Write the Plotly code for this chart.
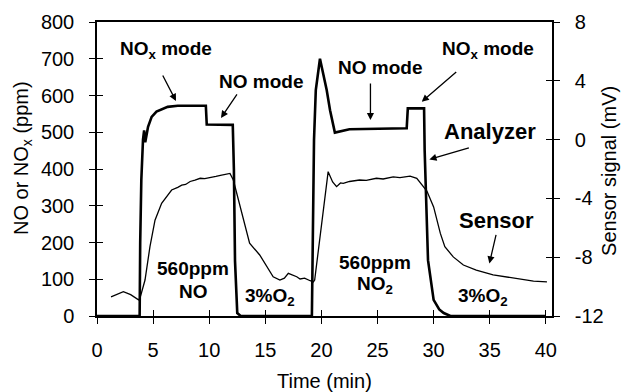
import plotly.graph_objects as go

# Analyzer (ppm, left axis)
analyzer_t = [0, 3.8, 3.85, 3.95, 4.1, 4.2, 4.3, 4.4, 4.55, 4.87, 5.3, 6.3, 7.2, 9.7, 9.78,
              12.1, 12.2, 12.3, 12.5, 12.8, 19.15, 19.34, 19.5, 19.87, 20.17, 20.47, 20.77,
              21.2, 22.5, 27.6, 27.7, 29.15, 29.2, 29.5, 30.0, 30.5, 30.9, 31.5, 40.0]
analyzer_ppm = [0, 0, 200, 370, 480, 505, 473, 495, 515, 542, 556, 569, 572, 572, 521,
                520, 400, 150, 8, 0, 0, 479, 615, 700, 660, 615, 560,
                499, 508, 511, 565, 565, 452, 152, 44, 18, 8, 0, 0]

# Sensor (mV, right axis)
sensor_t = [1.25, 1.8, 2.35, 3.0, 3.5, 3.7, 3.83, 4.28, 4.72, 5.17, 5.76, 6.65, 7.2, 7.55,
            7.9, 8.3, 8.73, 9.2, 9.6, 10.2, 10.6, 11.0, 11.5, 11.85, 12.15, 12.75, 13.6,
            14.5, 15.1, 15.7, 16.3, 16.7, 17.05, 17.4, 17.8, 18.1, 18.5, 19.0, 19.28, 19.4,
            20.0, 20.6, 21.0, 21.35, 21.7, 21.95, 22.5, 23.4, 24.0, 24.9, 25.5, 26.4, 27.0,
            27.9, 28.5, 29.2, 29.4, 30.0, 30.6, 31.0, 31.75, 32.65, 33.8, 35.3, 37.1, 38.9, 40.1]
sensor_mv = [-10.70, -10.50, -10.35, -10.55, -10.80, -10.90, -10.78, -9.55, -7.28, -5.48,
             -4.33, -3.43, -3.25, -3.10, -3.05, -2.85, -2.75, -2.63, -2.65, -2.53, -2.50,
             -2.43, -2.35, -2.30, -2.75, -4.58, -7.05, -7.85, -8.63, -9.33, -9.55, -9.43,
             -9.10, -9.20, -9.33, -9.48, -9.43, -9.60, -9.68, -9.55, -5.88, -2.18, -2.88,
             -3.20, -2.95, -2.98, -2.85, -2.75, -2.78, -2.63, -2.68, -2.53, -2.58, -2.48,
             -2.63, -3.33, -3.50, -4.58, -6.38, -7.28, -7.98, -8.53, -8.88, -9.20, -9.43,
             -9.63, -9.68]

x_ticks = [0, 5, 10, 15, 20, 25, 30, 35, 40]
y_ticks = [0, 100, 200, 300, 400, 500, 600, 700, 800]
y2_ticks = [-12, -8, -4, 0, 4, 8]
y2_ticktext = ["-12", "-8", "-4", "0", "4", "8"]

FONT = "Liberation Sans, Arial, sans-serif"
X_RANGE = [0, 40.55]
Y_RANGE = [0, 800]
Y2_RANGE = [-12, 8]

fig = go.Figure()
fig.add_trace(go.Scatter(x=analyzer_t, y=analyzer_ppm, mode="lines",
                         line=dict(color="black", width=2.6), xaxis="x", yaxis="y",
                         showlegend=False))
fig.add_trace(go.Scatter(x=sensor_t, y=sensor_mv, mode="lines",
                         line=dict(color="black", width=1.3), xaxis="x", yaxis="y2",
                         showlegend=False))
# dummy traces so the overlay tick axes are drawn
fig.add_trace(go.Scatter(x=[None], y=[None], xaxis="x2", yaxis="y3", showlegend=False))
fig.add_trace(go.Scatter(x=[None], y=[None], xaxis="x", yaxis="y4", showlegend=False))

axis_common = dict(showgrid=False, zeroline=False, linecolor="black", linewidth=1.5,
                   tickcolor="black", tickwidth=1.3, ticklen=6, automargin=False,
                   tickfont=dict(family=FONT, size=20, color="black"))
inner_common = dict(showgrid=False, zeroline=False, showline=False, showticklabels=False,
                    tickcolor="black", tickwidth=1.3, ticklen=6, automargin=False,
                    ticks="inside")

fig.update_layout(
    width=624, height=392,
    margin=dict(l=97, r=72, t=22, b=76, autoexpand=False),
    paper_bgcolor="white", plot_bgcolor="white",
    font=dict(family=FONT, color="black"),
    hovermode=False,
    xaxis=dict(range=X_RANGE, tickvals=x_ticks, ticks="outside", showline=True,
               mirror=True, anchor="y", ticklabelstandoff=9, **axis_common),
    xaxis2=dict(range=X_RANGE, tickvals=x_ticks, overlaying="x", side="bottom",
                anchor="y", **inner_common),
    yaxis=dict(range=Y_RANGE, tickvals=y_ticks, ticks="outside", showline=True,
               anchor="x", ticklabelstandoff=11, **axis_common),
    yaxis3=dict(range=Y_RANGE, tickvals=y_ticks, overlaying="y", side="left",
                anchor="x", **inner_common),
    yaxis2=dict(range=Y2_RANGE, tickvals=y2_ticks, ticktext=y2_ticktext, ticks="outside",
                showline=True, overlaying="y", side="right", anchor="x",
                ticklabelstandoff=11, **axis_common),
    yaxis4=dict(range=Y2_RANGE, tickvals=y2_ticks, overlaying="y", side="right",
                anchor="x", **inner_common),
)

title_font = dict(family=FONT, size=20, color="black")
fig.add_annotation(text="Time (min)", xref="paper", yref="paper", x=0.5, y=-0.221,
                   showarrow=False, font=title_font, xanchor="center", yanchor="middle")
fig.add_annotation(text="NO or NO<sub>x</sub> (ppm)", xref="paper", yref="paper",
                   x=-0.165, y=0.537, textangle=-90, showarrow=False, font=title_font,
                   xanchor="center", yanchor="middle")
fig.add_annotation(text="Sensor signal (mV)", xref="paper", yref="paper",
                   x=1.125, y=0.493, textangle=-90, showarrow=False, font=title_font,
                   xanchor="center", yanchor="middle")

bold = dict(family=FONT, size=19, color="black")
bold_big = dict(family=FONT, size=22, color="black")
labels = [
    ("<b>NO<sub>x</sub> mode</b>", 6.15, 724, bold),
    ("<b>NO mode</b>", 14.6, 639, bold),
    ("<b>NO mode</b>", 25.2, 675, bold),
    ("<b>NO<sub>x</sub> mode</b>", 34.85, 724, bold),
    ("<b>Analyzer</b>", 35.0, 501, bold_big),
    ("<b>Sensor</b>", 35.6, 259, bold_big),
    ("<b>560ppm</b>", 8.58, 128, bold),
    ("<b>NO</b>", 8.58, 66, bold),
    ("<b>3%O<sub>2</sub></b>", 15.42, 51, bold),
    ("<b>560ppm</b>", 24.78, 145, bold),
    ("<b>NO<sub>2</sub></b>", 24.78, 84, bold),
    ("<b>3%O<sub>2</sub></b>", 34.36, 51, bold),
]
for text, x, y, f in labels:
    fig.add_annotation(text=text, x=x, y=y, xref="x", yref="y", showarrow=False,
                       font=f, xanchor="center", yanchor="middle")

arrows = [
    (7.04, 585, -14, -27),
    (11.05, 539, 17, -25),
    (24.37, 533, 0, -38),
    (28.94, 583, 36, -31),
    (29.62, 426, 41, -12),
    (34.97, 143, 7, -30),
]
for x, y, ax, ay in arrows:
    fig.add_annotation(text="", x=x, y=y, xref="x", yref="y", ax=ax, ay=ay,
                       showarrow=True, arrowhead=2, arrowsize=1.1, arrowwidth=1.3,
                       arrowcolor="black")

fig.write_html("out.html", config={"displayModeBar": False},
               post_script="document.body.style.margin='0';")
